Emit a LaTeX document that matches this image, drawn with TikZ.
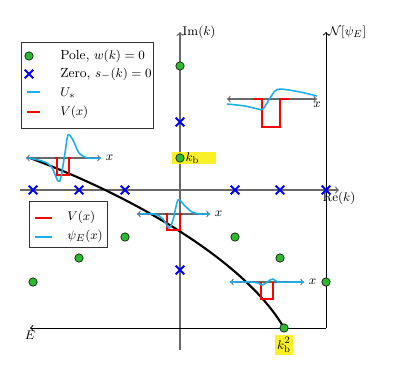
\documentclass[tikz,border=0pt]{standalone}
\usepackage{amsmath}
\usepackage{amsfonts}
\usepackage{amssymb}
\usepackage{tikz}
\usepackage{xcolor}
\usetikzlibrary{shapes.misc}

\definecolor{wavecol}{RGB}{25,175,235}
\definecolor{polecol}{RGB}{45,185,45}
\definecolor{hilite}{RGB}{250,240,40}
\definecolor{axiscol}{RGB}{105,105,105}

\tikzset{
  kaxis/.style={draw=axiscol, line width=0.9pt},
  naxis/.style={draw=black, line width=0.7pt},
  xaxis/.style={draw=axiscol, line width=0.8pt, <->},
  pole/.style={circle, draw=black, fill=polecol, inner sep=0pt, minimum size=6pt, thin},
  zero/.style={cross out, draw=blue, line width=1.3pt, inner sep=0pt, minimum size=4.8pt},
  wave/.style={wavecol, line width=1.1pt},
  well/.style={red, line width=1.1pt},
  legbox/.style={draw=black!80, line width=0.7pt},
}

\begin{document}
\begin{tikzpicture}[x=0.025cm, y=-0.025cm, every node/.style={font=\fontsize{9.4pt}{11pt}\selectfont}]
				\useasboundingbox (0,0) rectangle (398,371);
				
				% complex k plane
				\coordinate (imlo) at (180,350);
				\coordinate (imhi) at (180,32);
				\coordinate (relo) at (20,190);
				\coordinate (rehi) at (339,190);
				\draw[kaxis, ->] (imlo) -- (imhi) node[right, inner sep=1.5pt] (imlab) {$\mathrm{Im}(k)$};
				\draw[kaxis, ->] (relo) -- (rehi) node[below, inner sep=1pt] (relab) {$\mathrm{Re}(k)$};
				
				% norm against energy
				\coordinate (corner) at (326,328);
				\coordinate (nhi) at (326,32);
				\coordinate (elo) at (30,328);
				\draw[naxis, ->] (corner) -- (nhi) node[right, inner sep=1.5pt] (nlab) {$\mathcal{N}[\psi_E]$};
				\draw[naxis, ->] (corner) -- (elo) node[below, inner sep=2pt] (elab) {$E$};
				
				% bound state highlight
				\fill[hilite] (172,152) rectangle (216,164);
				\node[right, inner sep=1pt] (kblab) at (184,158) {$k_{\mathrm{b}}$};
				\node[fill=hilite, inner sep=1.5pt] (kbsq) at (284,345) {$k_{\mathrm{b}}^2$};
				
				% norm curve
				\coordinate (cstart) at (30,158);
				\coordinate (cend) at (284,328);
				\draw[black, line width=1.5pt] (cstart) .. controls (130,195) and (245,260) .. (cend);
				
				% zeros
				\foreach \zx/\zy [count=\i] in {180/122, 33/190, 79/190, 125/190, 235/190, 280/190, 326/190, 180/270}
				  \node[zero] (z\i) at (\zx,\zy) {};
				
				% poles
				\foreach \px/\py [count=\i] in {180/66, 180/158, 125/237, 235/237, 79/258, 280/258, 33/282, 326/282, 284/328}
				  \node[pole] (p\i) at (\px,\py) {};
				
				% inset: scattering state
				\draw[xaxis] (227,99) -- (317,99) node[below, inner sep=2pt] (xa) {$x$};
				\draw[well] (253,99) -- (262,99) -- (262,127) -- (280,127) -- (280,99) -- (289,99);
				\draw[wave] plot[smooth] coordinates {(227,104) (245,106) (258,109) (263,109) (270,98) (275,91) (281,89) (300,92) (317,96)};
				
				% inset: left bound state
				\draw[xaxis] (26,158) -- (101,158) node[right, inner sep=3pt] (xb) {$x$};
				\draw[well] (55,158) -- (57,158) -- (57,175) -- (69,175) -- (69,158) -- (71,158);
				\draw[wave] plot[smooth] coordinates {(28,158) (42,161) (51,166) (58,181) (61,177) (65,153) (68,135) (73,140) (79,153) (88,158) (101,158)};
				
				% inset: middle bound state
				\draw[xaxis] (137,214) -- (210,214) node[right, inner sep=3pt] (xc) {$x$};
				\draw[well] (165,214) -- (167,214) -- (167,230) -- (180,230) -- (180,214) -- (182,214);
				\draw[wave] plot[smooth] coordinates {(139,214) (155,214) (163,219) (169,228) (173,220) (178,200) (184,205) (192,212) (200,214) (210,214)};
				
				% inset: flat state
				\draw[xaxis] (230,282) -- (304,282) node[right, inner sep=3pt] (xd) {$x$};
				\draw[well] (261,282) -- (261,299) -- (273,299) -- (273,282);
				\draw[wave] plot[smooth] coordinates {(230,282) (250,282) (258,283) (262,285) (266,283) (270,280) (273,279) (278,282) (290,282) (304,282)};
				
				% legend of the k plane
				\draw[legbox] (21,42) rectangle (153,128);
				\node[pole] (lpole) at (29,56) {};
				\node[right, inner sep=0pt] (lpoletxt) at (60,56) {Pole, $w(k)=0$};
				\node[zero] (lzero) at (29,74) {};
				\node[right, inner sep=0pt] (lzerotxt) at (60,74) {Zero, $s_{-}(k)=0$};
				\draw[wave] (27,92) -- (40,92);
				\node[right, inner sep=0pt] (lutxt) at (60,93) {$U_{*}$};
				\draw[well] (27,112) -- (40,112);
				\node[right, inner sep=0pt] (lvtxt) at (60,112) {$V(x)$};
				
				% legend of the insets
				\draw[legbox] (29,201) rectangle (107,247);
				\draw[well] (35,218) -- (52,218);
				\node[right, inner sep=0pt] (lv2txt) at (67,217) {$V(x)$};
				\draw[wave] (35,237) -- (52,237);
				\node[right, inner sep=0pt] (lpsitxt) at (67,236) {$\psi_E(x)$};
			\end{tikzpicture}
\end{document}
